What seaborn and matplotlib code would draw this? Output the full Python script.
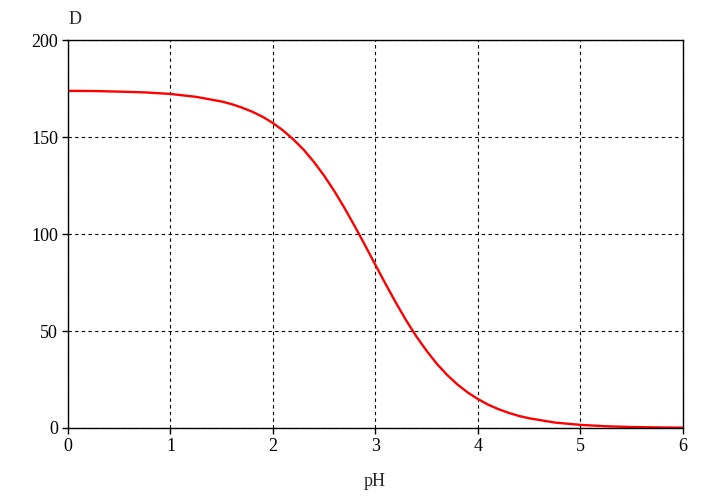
import matplotlib
matplotlib.use('Agg')
import matplotlib.pyplot as plt
import seaborn as sns
import pandas as pd

# Valores (curva D x pH)
ph = [0.0, 0.25, 0.5, 0.75, 1.0, 1.25, 1.5, 1.6, 1.7, 1.8, 1.9,
      2.0, 2.1, 2.2, 2.3, 2.4, 2.5, 2.6, 2.7, 2.8, 2.9,
      3.0, 3.1, 3.2, 3.3, 3.4, 3.5, 3.6, 3.7, 3.8, 3.9,
      4.0, 4.1, 4.2, 4.3, 4.4, 4.5, 4.75, 5.0, 5.25, 5.5, 5.75, 6.0]
d = [173.8, 173.7, 173.4, 173.0, 172.2, 170.7, 168.3, 166.9, 165.1, 163.0, 160.4,
     157.2, 153.3, 148.7, 143.4, 137.1, 130.0, 122.0, 113.2, 103.8, 94.0,
     84.0, 74.1, 64.5, 55.4, 47.1, 39.7, 33.0, 27.3, 22.4, 18.3,
     14.9, 12.0, 9.7, 7.8, 6.2, 5.0, 2.8, 1.6, 0.9, 0.5, 0.3, 0.16]
x_ticks = [0, 1, 2, 3, 4, 5, 6]
y_ticks = [0, 50, 100, 150, 200]

df = pd.DataFrame({"pH": ph, "D": d})

sns.set_style("white")
plt.rcParams['font.family'] = ['Liberation Serif', 'DejaVu Serif']
plt.rcParams['font.size'] = 13

fig = plt.figure(figsize=(7.2, 5.04), dpi=100)
ax = fig.add_axes([0.0944, 0.1508, 0.8542, 0.7698])

sns.lineplot(data=df, x="pH", y="D", color="#ff0000", linewidth=1.7, ax=ax)

ax.set_xlim(0, 6)
ax.set_ylim(0, 200)
ax.set_xticks(x_ticks)
ax.set_yticks(y_ticks)
ax.grid(True, color="black", linestyle=(0, (3, 3)), linewidth=0.8)
for s in ax.spines.values():
    s.set_color("black")
    s.set_linewidth(1.0)
ax.tick_params(direction="out", length=4, width=1, colors="black", labelsize=13, pad=3,
               bottom=True, left=True)
ax.set_xlabel("")
ax.set_ylabel("")

fig.text(75 / 720, 1 - 20 / 504, "D", ha="center", va="center", fontsize=13)
fig.text(375 / 720, 1 - 481 / 504, "pH", ha="center", va="center", fontsize=13)

fig.savefig("out.png", dpi=100)
plt.close(fig)
